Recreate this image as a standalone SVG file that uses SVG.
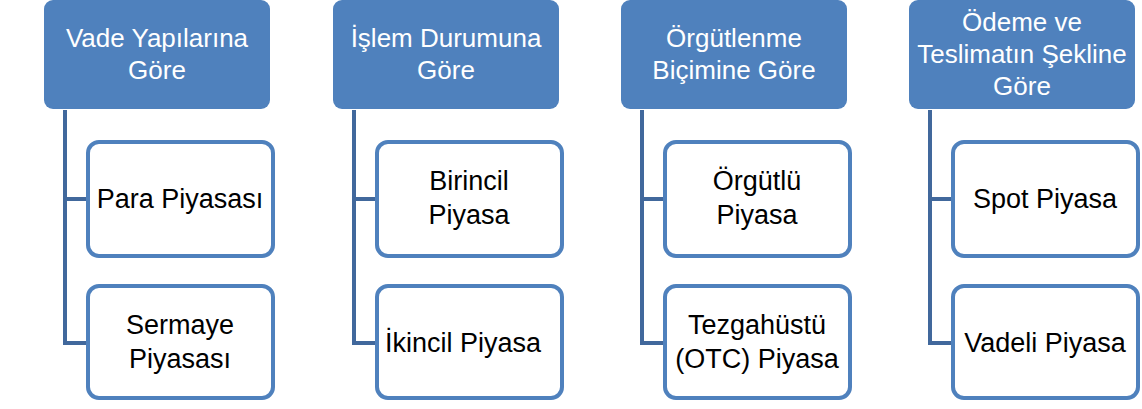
<svg xmlns="http://www.w3.org/2000/svg" width="1142" height="409" viewBox="0 0 1142 409">
<style>
.hdr{fill:#4f81bd;}
.child{fill:#ffffff;stroke:#4f81bd;stroke-width:4;}
.ht{font-family:"Liberation Sans",Arial,sans-serif;font-size:26px;fill:#ffffff;text-anchor:middle;}
.ct{font-family:"Liberation Sans",Arial,sans-serif;font-size:27px;fill:#000000;text-anchor:middle;}
.conn{fill:none;stroke:#41689c;stroke-width:4;}
</style>
<rect width="1142" height="409" fill="#ffffff"/>
<g id="connectors">
<path class="conn" d="M65 110 V345 M63 199 H88 M63 343 H88"/>
<path class="conn" d="M354 110 V345 M352 199 H377 M352 343 H377"/>
<path class="conn" d="M642 110 V345 M640 199 H665 M640 343 H665"/>
<path class="conn" d="M930 110 V345 M928 199 H953 M928 343 H953"/>
</g>
<g id="h1"><rect class="hdr" x="44" y="0" width="226" height="109" rx="9"/>
<text class="ht" x="157" y="47">Vade Yapılarına</text><text class="ht" x="157" y="79">Göre</text></g>
<g id="c1a"><rect class="child" x="88" y="142" width="185" height="114" rx="11"/><text class="ct" x="180" y="208">Para Piyasası</text></g>
<g id="c1b"><rect class="child" x="88" y="286" width="185" height="112" rx="11"/><text class="ct" x="180" y="334">Sermaye</text><text class="ct" x="180" y="368">Piyasası</text></g>

<g id="h2"><rect class="hdr" x="333" y="0" width="226" height="109" rx="9"/>
<text class="ht" x="446" y="47">İşlem Durumuna</text><text class="ht" x="446" y="79">Göre</text></g>
<g id="c2a"><rect class="child" x="377" y="142" width="185" height="114" rx="11"/><text class="ct" x="469" y="190">Birincil</text><text class="ct" x="469" y="224">Piyasa</text></g>
<g id="c2b"><rect class="child" x="377" y="286" width="185" height="112" rx="11"/><text class="ct" x="463" y="352">İkincil Piyasa</text></g>

<g id="h3"><rect class="hdr" x="621" y="0" width="226" height="109" rx="9"/>
<text class="ht" x="734" y="47">Örgütlenme</text><text class="ht" x="734" y="79">Biçimine Göre</text></g>
<g id="c3a"><rect class="child" x="665" y="142" width="185" height="114" rx="11"/><text class="ct" x="757" y="190">Örgütlü</text><text class="ct" x="757" y="224">Piyasa</text></g>
<g id="c3b"><rect class="child" x="665" y="286" width="185" height="112" rx="11"/><text class="ct" x="757" y="334">Tezgahüstü</text><text class="ct" x="757" y="368">(OTC) Piyasa</text></g>

<g id="h4"><rect class="hdr" x="909" y="0" width="226" height="109" rx="9"/>
<text class="ht" x="1022" y="31">Ödeme ve</text><text class="ht" x="1022" y="63">Teslimatın Şekline</text><text class="ht" x="1022" y="95">Göre</text></g>
<g id="c4a"><rect class="child" x="953" y="142" width="185" height="114" rx="11"/><text class="ct" x="1045" y="208">Spot Piyasa</text></g>
<g id="c4b"><rect class="child" x="953" y="286" width="185" height="112" rx="11"/><text class="ct" x="1045" y="352">Vadeli Piyasa</text></g>
</svg>
